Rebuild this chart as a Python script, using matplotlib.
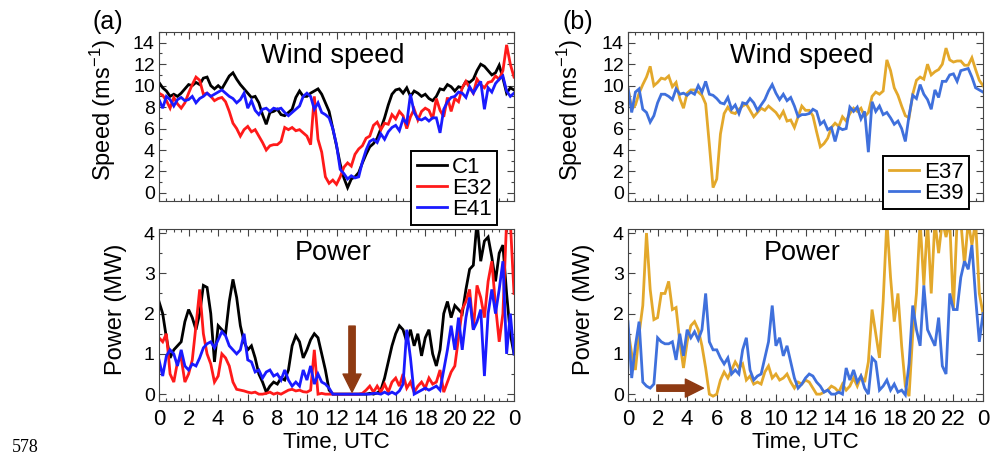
import numpy as np
import matplotlib
matplotlib.use("Agg")
import matplotlib.pyplot as plt
from matplotlib.ticker import MultipleLocator, FixedLocator

plt.rcParams["font.family"] = ["Liberation Sans", "DejaVu Sans"]
plt.rcParams["mathtext.fontset"] = "custom"
plt.rcParams["mathtext.rm"] = "Liberation Sans"
plt.rcParams["mathtext.default"] = "regular"

# time axis: 15-min samples over one day (UTC hours)
HOURS = np.linspace(0, 24, 97)

# ---- panel (a): wind speed (m/s)
SPEED_C1 = [10.3, 9.8, 9.5, 9.0, 9.2, 9.0, 9.3, 9.7, 10.1, 10.0, 10.3, 10.1, 10.7, 10.8, 10.0, 9.7,
            10.0, 9.7, 10.3, 10.9, 11.2, 10.6, 10.1, 9.7, 9.3, 8.9, 9.0, 8.4, 7.3, 6.4, 7.5, 7.6,
            7.8, 7.3, 7.2, 7.5, 7.8, 8.9, 9.5, 9.0, 9.0, 9.3, 9.5, 9.7, 9.2, 8.4, 7.6, 6.0, 4.4,
            2.7, 1.4, 0.5, 1.3, 1.5, 1.9, 2.8, 3.6, 4.3, 4.6, 5.1, 6.0, 7.0, 8.2, 9.2, 9.6,
            9.7, 9.3, 9.8, 9.0, 9.5, 9.3, 9.0, 9.2, 8.8, 8.6, 9.0, 9.7, 9.6, 10.1, 9.9, 9.5,
            9.9, 9.8, 10.4, 10.3, 10.6, 11.4, 12.0, 11.8, 11.4, 11.0, 11.2, 11.9, 10.7, 9.3, 9.8, 9.6]
SPEED_E32 = [9.3, 9.1, 8.6, 7.9, 8.9, 8.3, 7.9, 8.4, 9.3, 10.1, 10.8, 10.5, 9.2, 9.3, 9.0, 8.6,
             8.8, 8.9, 8.5, 7.6, 6.5, 6.0, 5.3, 5.9, 6.2, 5.7, 5.9, 5.3, 4.7, 4.0, 4.4, 4.5,
             4.5, 4.8, 6.1, 5.9, 6.1, 5.8, 5.9, 5.6, 5.3, 4.5, 9.0, 5.0, 3.8, 1.5, 0.9, 1.2, 0.8,
             1.5, 2.4, 2.8, 2.5, 3.6, 4.1, 4.4, 5.1, 5.3, 6.3, 6.6, 5.9, 6.5, 6.4, 7.3, 6.9,
             7.6, 7.2, 6.0, 7.1, 7.8, 6.8, 7.6, 7.9, 7.7, 6.9, 8.8, 7.7, 7.1, 8.9, 7.6, 8.8,
             8.5, 9.8, 10.4, 9.8, 9.3, 10.6, 10.1, 9.8, 10.3, 10.4, 10.9, 10.6, 11.4, 13.8, 12.0, 10.8]
SPEED_E41 = [8.7, 7.9, 9.0, 8.7, 8.1, 8.7, 8.9, 8.6, 8.7, 9.0, 8.4, 8.8, 9.0, 9.3, 9.0, 9.2,
             9.4, 9.6, 9.3, 9.0, 8.8, 8.4, 8.7, 9.3, 7.9, 8.6, 7.7, 7.3, 7.8, 7.9, 7.6, 7.9,
             7.8, 7.9, 7.5, 7.2, 7.5, 7.8, 8.1, 9.0, 9.3, 9.0, 7.8, 8.4, 7.5, 7.3, 7.0, 6.0, 4.5,
             2.2, 1.8, 1.3, 1.6, 1.4, 1.5, 2.9, 4.0, 4.8, 5.0, 4.7, 5.5, 5.0, 5.7, 6.1, 6.3,
             5.8, 6.9, 6.5, 9.2, 7.5, 6.9, 6.8, 7.0, 6.7, 7.0, 7.0, 5.6, 7.8, 8.5, 8.9, 9.0,
             9.4, 9.3, 8.9, 9.9, 9.3, 9.9, 10.4, 7.8, 9.8, 9.4, 10.2, 10.6, 10.9, 9.5, 9.0, 9.3]

# ---- panel (a): power (MW)
POWER_C1 = [2.3, 2.0, 1.4, 0.9, 1.1, 1.2, 1.3, 1.8, 2.1, 1.9, 1.6, 2.0, 2.7, 2.65, 2.0, 0.8,
            1.7, 1.6, 1.5, 2.3, 2.85, 2.4, 1.7, 1.3, 1.1, 1.2, 0.9, 0.5, 0.3, 0.05, 0.2, 0.3,
            0.25, 0.4, 0.35, 0.6, 1.2, 1.45, 1.3, 0.9, 1.1, 1.35, 1.5, 1.4, 1.0, 0.6, 0.1, 0.0, 0.0,
            0.0, 0.0, 0.0, 0.0, 0.0, 0.0, 0.0, 0.0, 0.02, 0.0, 0.03, 0.1, 0.4, 0.8, 1.2, 1.5,
            1.7, 1.6, 1.3, 1.6, 1.2, 1.5, 0.95, 1.4, 1.6, 1.0, 0.7, 1.1, 2.0, 2.3, 1.9, 2.2,
            2.1, 2.0, 2.6, 3.1, 3.2, 4.3, 3.3, 3.8, 3.9, 3.4, 2.8, 3.5, 3.7, 2.5, 1.5, 1.0]
POWER_E32 = [1.4, 1.3, 1.5, 0.5, 0.3, 0.8, 0.9, 0.3, 0.5, 0.85, 1.7, 2.6, 1.5, 1.0, 0.75, 0.3,
             0.45, 1.0, 0.9, 0.7, 0.3, 0.12, 0.1, 0.08, 0.05, 0.03, 0.05, 0.0, 0.0, 0.02, 0.05, 0.0,
             0.03, 0.0, 0.05, 0.1, 0.12, 0.08, 0.1, 0.06, 0.05, 0.1, 1.1, 0.0, 0.02, 0.0, 0.0, 0.0, 0.0,
             0.0, 0.0, 0.0, 0.0, 0.0, 0.0, 0.02, 0.1, 0.2, 0.05, 0.2, 0.05, 0.25, 0.05, 0.3, 0.4,
             0.2, 0.5, 0.15, 0.3, 0.05, 0.2, 0.3, 0.15, 0.4, 0.25, 0.3, 0.6, 0.05, 0.3, 0.55, 0.7,
             1.4, 2.1, 2.3, 2.6, 1.6, 2.7, 2.4, 1.9, 2.8, 3.3, 2.2, 1.3, 2.0, 4.3, 4.3, 2.5]
POWER_E41 = [0.85, 0.45, 0.95, 1.1, 1.0, 0.7, 1.1, 0.7, 0.6, 0.75, 0.7, 0.9, 1.15, 1.25, 1.3, 1.15,
             1.35, 1.55, 1.45, 1.2, 1.1, 1.0, 1.1, 1.5, 0.85, 0.8, 0.55, 0.6, 0.4, 0.55, 0.6, 0.45,
             0.5, 0.35, 0.6, 0.35, 0.2, 0.3, 0.2, 0.6, 0.35, 0.7, 0.25, 0.5, 0.3, 0.25, 0.15, 0.0, 0.0,
             0.0, 0.0, 0.0, 0.0, 0.0, 0.0, 0.0, 0.0, 0.0, 0.02, 0.02, 0.0, 0.05, 0.0, 0.05, 0.0,
             0.08, 0.25, 1.6, 0.9, 0.0, 0.05, 0.1, 0.15, 0.1, 0.15, 0.2, 0.1, 0.6, 1.1, 1.7, 1.1,
             1.9, 1.1, 1.9, 2.4, 1.6, 1.8, 2.1, 0.45, 2.0, 2.6, 2.0, 2.6, 3.3, 1.0, 2.0, 1.0]

# ---- panel (b): wind speed (m/s)
SPEED_E37 = [9.8, 7.8, 8.2, 9.3, 10.1, 10.8, 11.8, 10.0, 10.3, 10.7, 10.6, 10.9, 9.9, 10.3, 8.8, 7.9,
             9.3, 9.6, 9.6, 9.4, 9.1, 8.3, 4.5, 0.5, 1.3, 5.5, 7.4, 8.0, 7.5, 7.4, 7.8, 8.1,
             8.3, 7.7, 7.1, 7.5, 7.9, 7.7, 8.1, 7.8, 7.5, 7.0, 7.6, 6.7, 6.8, 6.1, 7.1, 8.1, 7.7,
             7.7, 7.2, 5.7, 4.3, 4.6, 5.1, 6.1, 6.5, 6.2, 7.1, 6.7, 7.4, 7.9, 7.6, 7.9, 7.1,
             7.5, 9.0, 9.4, 9.2, 9.5, 12.4, 11.4, 9.8, 9.1, 8.1, 7.2, 7.0, 9.2, 10.5, 10.8, 10.6,
             12.0, 11.0, 11.3, 11.5, 12.0, 13.5, 12.4, 12.2, 12.3, 12.3, 11.9, 11.9, 12.6, 11.5, 10.5, 10.0]
SPEED_E39 = [9.8, 7.5, 9.4, 9.7, 7.8, 7.5, 6.6, 7.2, 8.4, 9.2, 9.2, 9.0, 8.7, 9.7, 9.2, 9.3,
             9.1, 9.4, 9.2, 10.0, 9.4, 10.4, 9.2, 9.1, 8.8, 8.4, 8.3, 8.9, 7.8, 8.2, 7.4, 8.4,
             8.3, 8.8, 8.4, 7.7, 8.2, 8.7, 9.5, 10.1, 9.3, 8.7, 9.2, 8.6, 8.9, 8.1, 7.1, 7.3, 7.3,
             7.4, 7.8, 7.6, 6.4, 6.7, 5.9, 6.1, 4.8, 6.1, 5.9, 6.0, 8.0, 7.6, 8.0, 6.9, 7.6,
             3.8, 8.5, 7.6, 8.1, 7.3, 7.5, 7.0, 6.4, 6.7, 6.0, 4.8, 7.2, 9.1, 8.8, 10.1, 9.2,
             8.7, 7.8, 9.6, 8.9, 10.4, 10.4, 11.0, 11.1, 10.4, 11.4, 11.5, 11.6, 10.8, 9.8, 9.6, 9.4]

# ---- panel (b): power (MW)
POWER_E37 = [1.6, 1.0, 0.6, 1.5, 2.2, 4.0, 2.6, 1.85, 1.9, 2.5, 2.5, 2.8, 2.1, 2.15, 1.3, 0.65,
             1.3, 1.7, 1.8, 1.6, 1.2, 0.65, 0.0, -0.05, 0.0, 0.35, 0.55, 0.4, 0.6, 0.8, 0.65, 0.75,
             0.35, 0.45, 0.25, 0.3, 0.25, 0.55, 0.7, 0.4, 0.5, 0.35, 0.4, 0.5, 0.3, 0.15, 0.3, 0.25, 0.35,
             0.3, 0.15, 0.0, 0.0, 0.05, 0.1, 0.2, 0.15, 0.05, 0.25, 0.1, 0.2, 0.4, 0.2, 0.45, 0.3,
             0.8, 2.1, 1.5, 0.9, 2.3, 4.3, 2.9, 1.8, 2.5, 1.2, 0.2, -0.05, 1.5, 2.5, 4.3, 2.7,
             4.3, 2.5, 4.3, 3.5, 4.3, 3.9, 4.3, 2.1, 4.3, 4.3, 3.2, 4.3, 3.7, 4.3, 2.5, 2.0]
POWER_E39 = [1.8, 0.4, 1.2, 1.8, 0.3, 0.2, 0.15, 0.25, 1.4, 1.3, 1.25, 1.25, 1.3, 0.85, 1.5, 0.95,
             1.6, 1.4, 1.55, 1.35, 1.6, 2.5, 1.3, 1.1, 1.1, 0.9, 0.75, 0.9, 0.5, 0.6, 0.5, 1.1,
             1.4, 0.6, 0.35, 0.45, 0.5, 0.9, 1.3, 2.2, 1.2, 1.4, 0.95, 1.2, 0.8, 0.4, 0.15, 0.25, 0.4,
             0.5, 0.45, 0.3, 0.2, 0.05, 0.1, 0.0, 0.0, 0.05, 0.0, 0.65, 0.35, 0.6, 0.3, 0.45, 0.15,
             0.0, 0.9, 0.8, 0.1, 0.2, 0.35, 0.1, 0.25, 0.05, 0.1, -0.02, 0.75, 2.2, 1.6, 1.2, 2.7,
             1.6, 1.4, 1.2, 1.9, 0.7, 0.5, 2.5, 2.1, 2.1, 2.9, 3.3, 3.1, 3.7, 2.4, 1.3, 2.0]

SERIES_A = [("C1", "#000000"), ("E32", "#ff1a1a"), ("E41", "#1a1aff")]
SERIES_B = [("E37", "#e3a82b"), ("E39", "#3f70dc")]
SPEED = {"C1": SPEED_C1, "E32": SPEED_E32, "E41": SPEED_E41, "E37": SPEED_E37, "E39": SPEED_E39}
POWER = {"C1": POWER_C1, "E32": POWER_E32, "E41": POWER_E41, "E37": POWER_E37, "E39": POWER_E39}
for k in SPEED:
    assert len(SPEED[k]) == len(HOURS) and len(POWER[k]) == len(HOURS), k

HOUR_TICKS = list(range(0, 25, 2))
HOUR_LABELS = [str(h % 24) for h in HOUR_TICKS]
ARROW_COLOR = "#8e3a12"
LW = 2.0

fig = plt.figure(figsize=(9.93, 4.59), dpi=100)
W = 355 / 993
TOP = (1 - 201 / 459, 169 / 459)
BOT = (1 - 401 / 459, 172 / 459)


def style_axes(ax, speed):
    ax.set_xlim(0, 24)
    ax.xaxis.set_major_locator(FixedLocator(HOUR_TICKS))
    ax.xaxis.set_minor_locator(MultipleLocator(0.5))
    if speed:
        ax.set_ylim(-0.75, 15.0)
        ax.yaxis.set_major_locator(FixedLocator(range(0, 15, 2)))
        ax.yaxis.set_minor_locator(MultipleLocator(1))
    else:
        ax.set_ylim(-0.17, 4.1)
        ax.yaxis.set_major_locator(FixedLocator(range(0, 5)))
        ax.yaxis.set_minor_locator(MultipleLocator(0.5))
    ax.tick_params(which="both", direction="in", top=True, right=True, color="#444444", width=0.8)
    ax.tick_params(which="major", length=5)
    ax.tick_params(which="minor", length=2.5)
    ax.tick_params(axis="y", labelsize=14, pad=3)
    ax.tick_params(axis="x", labelsize=16, pad=6)
    for sp in ax.spines.values():
        sp.set_color("#444444")
        sp.set_linewidth(0.8)
    if speed:
        ax.set_xticklabels([])
    else:
        ax.set_xticklabels(HOUR_LABELS)
        ax.set_xlabel("Time, UTC", fontsize=16, labelpad=1)


def make_panel(x0, series, tag, leg_anchor, lab_x):
    ax_s = fig.add_axes([x0, TOP[0], W, TOP[1]])
    ax_p = fig.add_axes([x0, BOT[0], W, BOT[1]])
    for name, col in series:
        ax_s.plot(HOURS, SPEED[name], color=col, lw=LW, label=name, solid_joinstyle="miter")
        ax_p.plot(HOURS, POWER[name], color=col, lw=LW, solid_joinstyle="miter")
    style_axes(ax_s, True)
    style_axes(ax_p, False)
    ax_s.set_ylabel("Speed (ms$^{-1}$)", fontsize=17)
    ax_p.set_ylabel("Power (MW)", fontsize=17)
    ax_s.yaxis.set_label_coords(lab_x[0], 0.54)
    ax_p.yaxis.set_label_coords(lab_x[1], 0.535)
    ax_s.text(0.49, 0.86, "Wind speed", transform=ax_s.transAxes, ha="center", va="center", fontsize=19.5)
    ax_p.text(0.49, 0.86, "Power", transform=ax_p.transAxes, ha="center", va="center", fontsize=19.5)
    leg = ax_s.legend(loc="upper left", bbox_to_anchor=leg_anchor, bbox_transform=fig.transFigure,
                      fontsize=16, frameon=True, fancybox=False, framealpha=1, edgecolor="black",
                      borderpad=0.25, labelspacing=0.0, handlelength=1.35, handletextpad=0.25,
                      borderaxespad=0)
    leg.get_frame().set_linewidth(1.4)
    fig.text(x0 - 66 / 993, 1 - 22 / 459, tag, fontsize=18, ha="left", va="center")
    return ax_s, ax_p


axa_s, axa_p = make_panel(159 / 993, SERIES_A, "(a)", (411 / 993, 1 - 151 / 459), (-0.115, -0.09))
axb_s, axb_p = make_panel(628 / 993, SERIES_B, "(b)", (883 / 993, 1 - 156 / 459), (-0.12, -0.093))

arrow = dict(arrowstyle="simple,head_length=1.0,head_width=1.0,tail_width=0.35",
             color=ARROW_COLOR, mutation_scale=13, shrinkA=0, shrinkB=0)
axa_p.annotate("", xy=(13.05, 0.05), xytext=(13.05, 1.69), arrowprops=arrow)
axb_p.annotate("", xy=(5.1, 0.15), xytext=(1.95, 0.15), arrowprops=arrow)

fig.text(12 / 993, 3 / 459, "578", fontsize=13, family="Liberation Serif", ha="left", va="bottom")

fig.savefig("out.png", dpi=100)
